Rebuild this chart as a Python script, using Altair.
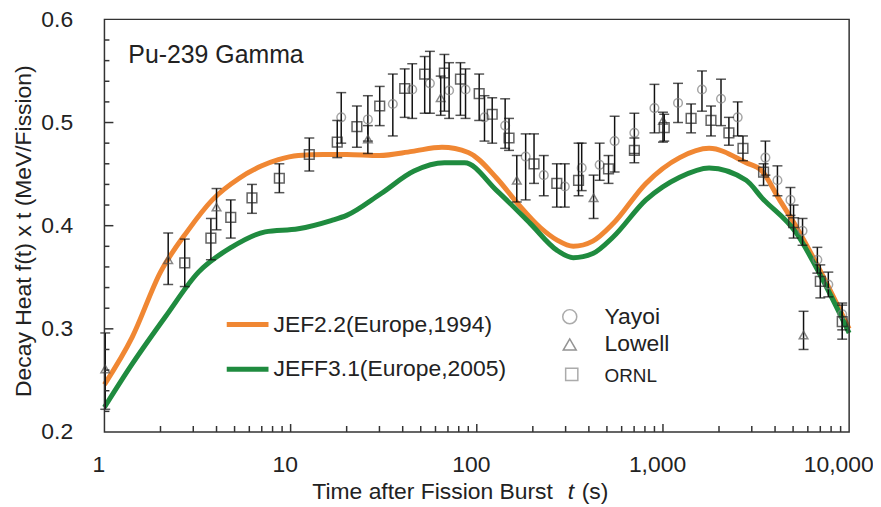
import altair as alt
import pandas as pd

# ---- model curves ----
jef22_t = [1, 1.41, 2, 2.8, 3.8, 5.3, 7, 8.6, 11, 15, 20, 30, 45, 65, 90, 128, 165, 220, 270, 330, 420, 540, 810, 1230, 1770, 2800, 3400, 4200, 5200, 7100, 10000]
jef22_v = [0.246, 0.292, 0.355, 0.395, 0.425, 0.446, 0.458, 0.464, 0.468, 0.469, 0.469, 0.468, 0.472, 0.476, 0.471, 0.446, 0.422, 0.398, 0.386, 0.380, 0.385, 0.402, 0.441, 0.466, 0.475, 0.461, 0.453, 0.426, 0.399, 0.354, 0.300]

jeff31_t = [1, 1.41, 2.13, 3.2, 4.8, 7.3, 11, 16.5, 20, 30.5, 46, 67, 86, 128, 194, 270, 330, 420, 540, 810, 1230, 1770, 2800, 3400, 5200, 7100, 10000]
jeff31_v = [0.224, 0.266, 0.312, 0.355, 0.379, 0.394, 0.397, 0.405, 0.410, 0.431, 0.453, 0.461, 0.461, 0.434, 0.402, 0.376, 0.369, 0.373, 0.389, 0.425, 0.447, 0.456, 0.444, 0.427, 0.393, 0.350, 0.296]

# ---- measurements ----
ornl_t = [2.7, 3.73, 4.77, 6.2, 8.7, 12.6, 17.8, 22.7, 30.1, 41, 52.5, 67, 81.7, 103, 121, 149, 203, 269, 352, 510, 702, 1016, 1416, 1811, 2260, 2690, 3470, 5030, 7000, 9180]
ornl_v = [0.364, 0.388, 0.408, 0.427, 0.446, 0.469, 0.481, 0.496, 0.516, 0.533, 0.547, 0.548, 0.542, 0.528, 0.508, 0.485, 0.460, 0.441, 0.444, 0.455, 0.473, 0.495, 0.504, 0.502, 0.490, 0.475, 0.452, 0.403, 0.346, 0.307]
ornl_hi = [0.387, 0.407, 0.425, 0.440, 0.460, 0.485, 0.502, 0.516, 0.535, 0.552, 0.564, 0.566, 0.558, 0.547, 0.524, 0.504, 0.489, 0.460, 0.480, 0.468, 0.485, 0.508, 0.518, 0.516, 0.505, 0.487, 0.460, 0.420, 0.362, 0.323]
ornl_lo = [0.341, 0.367, 0.388, 0.412, 0.432, 0.453, 0.466, 0.476, 0.497, 0.505, 0.509, 0.511, 0.507, 0.502, 0.480, 0.473, 0.441, 0.418, 0.429, 0.441, 0.461, 0.482, 0.490, 0.487, 0.478, 0.463, 0.439, 0.388, 0.330, 0.290]

yayoi_t = [18.7, 26, 35.4, 45, 56, 71, 87, 110, 142, 183, 229, 297, 366, 457, 550, 702, 900, 1205, 1620, 2050, 2520, 3550, 4120, 4840, 5620, 6750, 7730, 9180]
yayoi_v = [0.505, 0.503, 0.518, 0.532, 0.538, 0.531, 0.532, 0.505, 0.497, 0.467, 0.449, 0.438, 0.456, 0.459, 0.482, 0.490, 0.514, 0.519, 0.532, 0.523, 0.505, 0.466, 0.444, 0.425, 0.395, 0.367, 0.343, 0.314]
yayoi_hi = [0.529, 0.526, 0.547, 0.557, 0.569, 0.558, 0.552, 0.526, 0.523, 0.489, 0.468, 0.460, 0.480, 0.480, 0.506, 0.509, 0.537, 0.538, 0.550, 0.542, 0.520, 0.482, 0.458, 0.437, 0.407, 0.379, 0.355, 0.325]
yayoi_lo = [0.480, 0.482, 0.487, 0.504, 0.509, 0.504, 0.504, 0.482, 0.475, 0.425, 0.429, 0.418, 0.434, 0.444, 0.452, 0.470, 0.490, 0.500, 0.511, 0.497, 0.487, 0.449, 0.429, 0.410, 0.381, 0.354, 0.331, 0.299]

lowell_t = [1.01, 2.2, 4.0, 26, 64, 164, 424, 1000, 5690]
lowell_v = [0.261, 0.367, 0.418, 0.484, 0.524, 0.444, 0.427, 0.502, 0.294]
lowell_hi = [0.296, 0.393, 0.436, 0.497, 0.545, 0.468, 0.449, 0.510, 0.317]
lowell_lo = [0.222, 0.343, 0.396, 0.470, 0.507, 0.423, 0.407, 0.481, 0.280]

# ---- axis ticks ----
x_labels = [1, 10, 100, 1000, 10000]
x_major = [10, 100, 1000]
x_minor = [m * d for d in [1, 10, 100, 1000] for m in range(2, 10)]
y_labels = [0.2, 0.3, 0.4, 0.5, 0.6]
y_major = [0.3, 0.4, 0.5]
y_minor = [0.22, 0.24, 0.26, 0.28, 0.32, 0.34, 0.36, 0.38, 0.42, 0.44, 0.46, 0.48, 0.52, 0.54, 0.56, 0.58]

W, H = 749, 415
FONT = "Liberation Sans"
TXT = "#222222"
ORANGE = "#F08733"
GREEN = "#1F8B3F"

xs = alt.Scale(type="log", domain=[1, 10000], nice=False)
ys = alt.Scale(domain=[0.2, 0.6], nice=False, zero=False)

xax = alt.Axis(values=x_labels, format=",", title=None, ticks=False, domain=False, grid=False,
               labelFontSize=23, labelPadding=22, labelColor=TXT, labelFont=FONT,
               labelFlush=False,
               labelOffset={"condition": {"test": "datum.value >= 10000", "value": -11}, "value": -6})
yax = alt.Axis(values=y_labels, format=".1f", title=None, ticks=False,
               domain=False, grid=False, labelFontSize=23, labelPadding=32, labelColor=TXT, labelFont=FONT)

curves = pd.concat([
    pd.DataFrame({"t": jef22_t, "v": jef22_v, "s": "JEF2.2"}),
    pd.DataFrame({"t": jeff31_t, "v": jeff31_v, "s": "JEFF3.1"}),
])

base_lines = alt.Chart(curves).mark_line(strokeWidth=5, interpolate="monotone").encode(
    x=alt.X("t:Q", scale=xs, axis=xax),
    y=alt.Y("v:Q", scale=ys, axis=yax),
    color=alt.Color("s:N", scale=alt.Scale(domain=["JEFF3.1", "JEF2.2"], range=[GREEN, ORANGE]), legend=None),
    order=alt.Order("t:Q"),
    detail="s:N",
)


def series(ts, vs, lo, hi, shape, color, size):
    df = pd.DataFrame({"t": ts, "v": vs, "lo": lo, "hi": hi})
    c = alt.Chart(df)
    bars = c.mark_rule(color="#111111", strokeWidth=1.5).encode(
        x=alt.X("t:Q", scale=xs), y=alt.Y("lo:Q", scale=ys), y2="hi:Q")
    cap1 = c.mark_tick(color="#111111", orient="horizontal", size=10, thickness=1.5).encode(
        x=alt.X("t:Q", scale=xs), y=alt.Y("lo:Q", scale=ys))
    cap2 = c.mark_tick(color="#111111", orient="horizontal", size=10, thickness=1.5).encode(
        x=alt.X("t:Q", scale=xs), y=alt.Y("hi:Q", scale=ys))
    pts = c.mark_point(shape=shape, size=size, color=color, strokeWidth=1.5, filled=False).encode(
        x=alt.X("t:Q", scale=xs), y=alt.Y("v:Q", scale=ys))
    return [bars, cap1, cap2, pts]


layers = [base_lines]
layers += series(yayoi_t, yayoi_v, yayoi_lo, yayoi_hi, "circle", "#808080", 75)
layers += series(lowell_t, lowell_v, lowell_lo, lowell_hi, "triangle-up", "#555555", 75)
layers += series(ornl_t, ornl_v, ornl_lo, ornl_hi, "square", "#222222", 95)

# inward ticks
layers.append(alt.Chart(pd.DataFrame({"v": y_major})).mark_rule(color="#333", strokeWidth=1.5).encode(
    y=alt.Y("v:Q", scale=ys), x=alt.value(0), x2=alt.value(9)))
layers.append(alt.Chart(pd.DataFrame({"v": y_minor})).mark_rule(color="#333", strokeWidth=1.5).encode(
    y=alt.Y("v:Q", scale=ys), x=alt.value(0), x2=alt.value(5)))
layers.append(alt.Chart(pd.DataFrame({"t": x_major})).mark_rule(color="#333", strokeWidth=1.5).encode(
    x=alt.X("t:Q", scale=xs), y=alt.value(H), y2=alt.value(H - 8)))
layers.append(alt.Chart(pd.DataFrame({"t": x_minor})).mark_rule(color="#333", strokeWidth=1.5).encode(
    x=alt.X("t:Q", scale=xs), y=alt.value(H), y2=alt.value(H - 6)))

one = alt.Data(values=[{"a": 1}])

# plot frame
layers.append(alt.Chart(one).mark_rect(fill=None, fillOpacity=0, stroke="#333333", strokeWidth=1.5).encode(
    x=alt.value(0), x2=alt.value(W), y=alt.value(0), y2=alt.value(H)))


def label(text, x, y, size=23, align="left", style="normal", angle=0):
    return alt.Chart(one).mark_text(text=text, font=FONT, fontSize=size, align=align, baseline="middle",
                                    color=TXT, fontStyle=style, angle=angle).encode(x=alt.value(x), y=alt.value(y))


def seg(color, x1, x2, y):
    return alt.Chart(one).mark_rule(color=color, strokeWidth=5).encode(
        x=alt.value(x1), x2=alt.value(x2), y=alt.value(y))


def sym(shape, color, x, y, size):
    return alt.Chart(one).mark_point(shape=shape, color=color, size=size, strokeWidth=1.5, filled=False).encode(
        x=alt.value(x), y=alt.value(y))


layers += [
    label("Pu-239 Gamma", 24, 36, size=25),
    seg(ORANGE, 123, 165, 307), label("JEF2.2(Europe,1994)", 170, 307),
    seg(GREEN, 123, 165, 352), label("JEFF3.1(Europe,2005)", 170, 352),
    sym("circle", "#888888", 468, 299, 200), label("Yayoi", 503, 299),
    sym("triangle-up", "#666666", 468, 327, 170), label("Lowell", 503, 327),
    sym("square", "#888888", 470, 357, 150), label("ORNL", 503, 359, size=19),
    label("Time after Fission Burst", 451, 475, align="right"),
    label("t", 466, 475, style="italic"),
    label("(s)", 480, 475),
    label("Decay Heat f(t) x t (MeV/Fission)", -81, 213, size=23, align="center", angle=270),
]

chart = alt.layer(*layers).properties(
    width=W, height=H,
    background="white",
    autosize=alt.AutoSizeParams(type="none"),
    padding={"left": 97, "top": 10, "right": 24, "bottom": 73},
).configure_view(stroke=None)

chart.save("out.html", embed_options={"renderer": "svg", "actions": False})
